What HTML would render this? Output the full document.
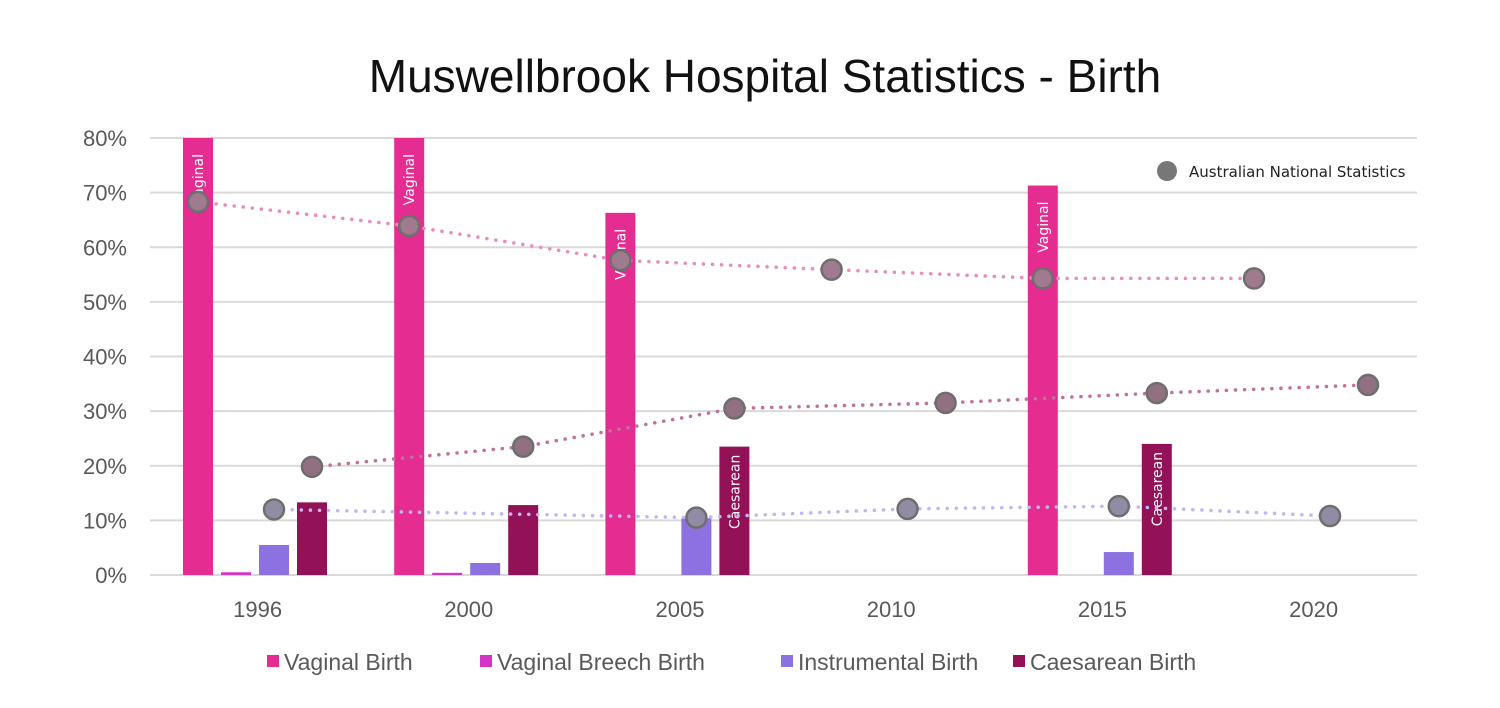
<!DOCTYPE html>
<html><head><meta charset="utf-8"><style>
body{margin:0;background:#fff;width:1500px;height:708px;overflow:hidden}
svg{display:block;font-family:"Liberation Sans",sans-serif}
</style></head><body>
<svg width="1500" height="708" viewBox="0 0 1500 708">
<text x="765" y="92" text-anchor="middle" font-size="46" fill="#111">Muswellbrook Hospital Statistics - Birth</text>
<g id="grid"></g><g id="bars"></g><g id="lines"></g><g id="dots"></g><g id="xlab"></g>
<g>
<circle cx="1167" cy="171" r="10" fill="#777"/>
<text x="1189" y="177" font-size="15" fill="#222" font-family="DejaVu Sans,sans-serif">Australian National Statistics</text>
</g>
<g id="legend"></g>
</svg>
<script>
const categories=["1996","2000","2005","2010","2015","2020"];
const vaginal=[80,80,66.3,null,71.3,null];
const breech=[0.5,0.4,null,null,null,null];
const instrumental=[5.5,2.2,10.4,null,4.2,null];
const caesarean=[13.3,12.8,23.5,null,24,null];
const natVaginal=[68.3,63.9,57.6,55.9,54.3,54.3];
const natCaesarean=[19.8,23.5,30.5,31.5,33.3,34.8];
const natInstrumental=[12,null,10.5,12.1,12.6,10.8];
const yTicks=[0,10,20,30,40,50,60,70,80];
const NS="http://www.w3.org/2000/svg";
const y0=575,y1=138,vmax=80,x0=150,gw=211.2,bw=30;
const Y=v=>y0-(v/vmax)*(y0-y1);
const X=(i,j)=>x0+i*gw+48+j*38;
function mk(t,a,p){const e=document.createElementNS(NS,t);for(const k in a)e.setAttribute(k,a[k]);p.appendChild(e);return e;}
const grid=document.getElementById('grid');
yTicks.forEach(t=>{
 const l=mk('line',{x1:x0,x2:1417,y1:Y(t),y2:Y(t),stroke:'#d9d9d9','stroke-width':2},grid);
 
 
 const tx=mk('text',{x:127,y:Y(t)+8,'text-anchor':'end','font-size':22,fill:'#595959'},grid);
 tx.textContent=t+'%';
 
 
});
const series=[[vaginal,'#e42c91','vaginal','Vaginal'],[breech,'#d235c8','breech',null],[instrumental,'#8b72e0','instrumental',null],[caesarean,'#921157','caesarean','Caesarean']];
const bars=document.getElementById('bars');
series.forEach((s,j)=>{
 s[0].forEach((v,i)=>{
  if(v==null)return;
  const cx=X(i,j);
  const r=mk('rect',{x:cx-bw/2,y:Y(v),width:bw,height:y0-Y(v),fill:s[1]},bars);
  
  
  if(s[3]&&(j==0||v>20)){
   const ty=(j==0)?Y(v)+16:Y(v)+8;
   const t=mk('text',{x:cx+5,y:ty,'text-anchor':'end','font-size':14,fill:'#fff','font-family':'DejaVu Sans,sans-serif',transform:`rotate(-90 ${cx+5} ${ty})`},bars);
   t.setAttribute('text-anchor','end');
   t.textContent=s[3];
   
   
  }
 });
});
const nat=[[natVaginal,0,'#e98bbf','vaginal'],[natCaesarean,3,'#c2709c','caesarean'],[natInstrumental,2,'#c3b6f0','instrumental']];
const lines=document.getElementById('lines'),dots=document.getElementById('dots');
nat.forEach(n=>{
 const pts=[];n[0].forEach((v,i)=>{if(v!=null)pts.push(X(i,n[1])+','+Y(v));});
 const p=mk('polyline',{points:pts.join(' '),fill:'none',stroke:n[2],'stroke-width':3.5,'stroke-dasharray':'0.1 9','stroke-linecap':'round'},lines);
 
 
 n[0].forEach((v,i)=>{
  if(v==null)return;
  const c=mk('circle',{cx:X(i,n[1]),cy:Y(v),r:10,fill:n[2],stroke:'#6e6e6e','stroke-width':2.5},dots);
  
  
  mk('circle',{cx:X(i,n[1]),cy:Y(v),r:9,fill:'#707070','fill-opacity':0.6},dots);
 });
});
const xl=document.getElementById('xlab');
categories.forEach((c,i)=>{
 const t=mk('text',{x:x0+i*gw+gw/2+2,y:617,'text-anchor':'middle','font-size':22,fill:'#595959'},xl);
 t.textContent=c;
 
 
});
const leg=document.getElementById('legend');
const legItems=[['Vaginal Birth','#e42c91',267],['Vaginal Breech Birth','#d235c8',480],['Instrumental Birth','#8b72e0',781],['Caesarean Birth','#921157',1013]];
legItems.forEach(l=>{
 const g=mk('g',{},leg);
 
 
 mk('rect',{x:l[2],y:655,width:12,height:12,fill:l[1]},g);
 const t=mk('text',{x:l[2]+17,y:670,'font-size':23,fill:'#595959'},g);
 t.textContent=l[0];
});
</script>
</body></html>
